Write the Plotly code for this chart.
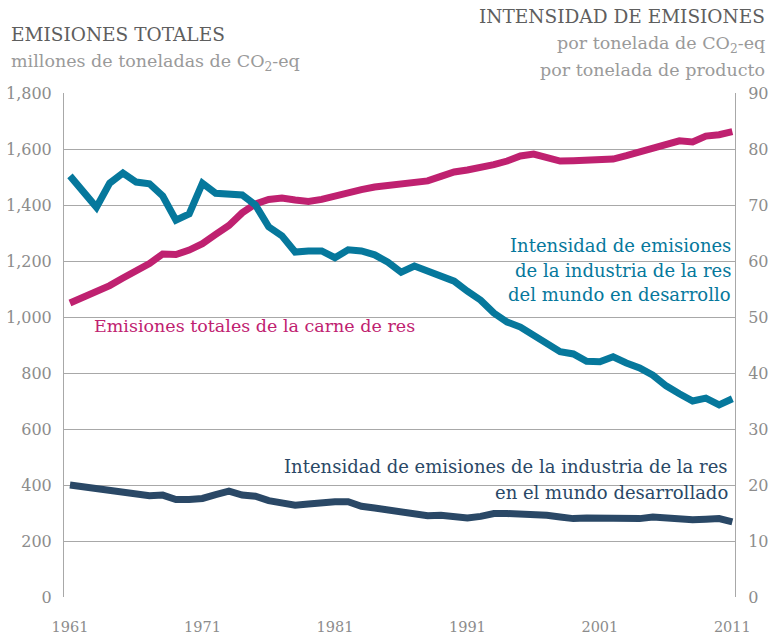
import plotly.graph_objects as go

years = list(range(1961, 2012))

# Total beef emissions, million tonnes CO2-eq (left axis)
beef_total = [1050, 1070, 1089, 1112, 1139, 1164, 1191, 1225, 1223, 1239,
              1262, 1295, 1327, 1372, 1404, 1420, 1425, 1418, 1413, 1420,
              1433, 1446, 1455, 1464, 1471, 1477, 1480, 1486, 1502, 1518,
              1525, 1532, 1544, 1557, 1575, 1582, 1570, 1557, 1558, 1560,
              1562, 1564, 1576, 1589, 1604, 1616, 1629, 1625, 1646, 1651,
              1662]

# Emission intensity, developing world (right axis)
intensity_developing = [75.2, 72.2, 69.6, 73.9, 75.7, 74.1, 73.8, 71.6, 67.3, 68.4,
                        73.9, 72.1, 71.9, 71.8, 70.0, 66.1, 64.5, 61.6, 61.8, 61.8,
                        60.6, 62.0, 61.8, 61.1, 59.8, 58.0, 59.1, 58.2, 57.6, 56.4,
                        54.6, 53.0, 50.7, 49.1, 48.2, 46.8, 45.2, 43.8, 43.4, 42.1,
                        42.0, 42.9, 41.8, 40.9, 39.6, 37.7, 36.3, 35.0, 35.5, 34.3,
                        35.4]

# Emission intensity, developed world (right axis)
intensity_developed = [20.0, 19.7, 19.4, 19.0, 18.9, 18.6, 18.1, 18.2, 17.4, 17.4,
                       17.6, 18.3, 18.9, 18.2, 18.0, 17.2, 16.7, 16.4, 16.6, 16.9,
                       17.0, 17.0, 16.2, 15.9, 15.5, 15.0, 14.7, 14.5, 14.6, 14.3,
                       14.1, 14.4, 14.9, 14.9, 14.9, 14.9, 14.6, 14.3, 14.0, 14.1,
                       14.1, 13.9, 13.8, 14.0, 14.3, 14.1, 13.9, 13.8, 13.9, 14.0,
                       13.4]

left_ticks = [0, 200, 400, 600, 800, 1000, 1200, 1400, 1600, 1800]
left_tick_text = ["0", "200", "400", "600", "800", "1,000", "1,200", "1,400", "1,600", "1,800"]
right_ticks = [0, 10, 20, 30, 40, 50, 60, 70, 80, 90]
x_ticks = [1961, 1971, 1981, 1991, 2001, 2011]

MAGENTA = "#bf2170"
TEAL = "#06789c"
NAVY = "#2a4866"
GRID = "#a8a8a8"
TICK = "#8c8c8c"
FONT = "DejaVu Serif"

fig = go.Figure()
fig.add_trace(go.Scatter(x=years, y=beef_total, mode="lines",
                         line=dict(color=MAGENTA, width=7), yaxis="y", hoverinfo="skip"))
fig.add_trace(go.Scatter(x=years, y=intensity_developed, mode="lines",
                         line=dict(color=NAVY, width=7), yaxis="y2", hoverinfo="skip"))
fig.add_trace(go.Scatter(x=years, y=intensity_developing, mode="lines",
                         line=dict(color=TEAL, width=7), yaxis="y2", hoverinfo="skip"))

L, R, T, B = 64, 36, 93, 40
W, H = 771, 637
pw, ph = W - L - R, H - T - B

def px(x):
    return (x - L) / pw

def py(y):
    return (H - B - y) / ph

annotations = [
    dict(text="EMISIONES TOTALES", x=px(9), y=py(35), xanchor="left", yanchor="middle",
         font=dict(size=18.5, color="#5e5e5e", family=FONT)),
    dict(text="millones de toneladas de CO<sub>2</sub>-eq", x=px(9), y=py(62), xanchor="left",
         yanchor="middle", font=dict(size=17.5, color="#9a9a9a", family=FONT)),
    dict(text="INTENSIDAD DE EMISIONES", x=px(767), y=py(16), xanchor="right", yanchor="middle",
         font=dict(size=18.5, color="#5e5e5e", family=FONT)),
    dict(text="por tonelada de CO<sub>2</sub>-eq", x=px(767), y=py(45), xanchor="right",
         yanchor="middle", font=dict(size=17.5, color="#9a9a9a", family=FONT)),
    dict(text="por tonelada de producto", x=px(767), y=py(70), xanchor="right", yanchor="middle",
         font=dict(size=17.5, color="#9a9a9a", family=FONT)),
    dict(text="Emisiones totales de la carne de res", x=px(92), y=py(326), xanchor="left",
         yanchor="middle", font=dict(size=17.5, color=MAGENTA, family=FONT)),
    dict(text="Intensidad de emisiones", x=px(733), y=py(245), xanchor="right",
         yanchor="middle", font=dict(size=18, color=TEAL, family=FONT)),
    dict(text="de la industria de la res", x=px(733), y=py(270), xanchor="right",
         yanchor="middle", font=dict(size=18, color=TEAL, family=FONT)),
    dict(text="del mundo en desarrollo", x=px(733), y=py(294), xanchor="right",
         yanchor="middle", font=dict(size=18, color=TEAL, family=FONT)),
    dict(text="Intensidad de emisiones de la industria de la res", x=px(730), y=py(466),
         xanchor="right", yanchor="middle", font=dict(size=18, color=NAVY, family=FONT)),
    dict(text="en el mundo desarrollado", x=px(730), y=py(492), xanchor="right",
         yanchor="middle", font=dict(size=18, color=NAVY, family=FONT)),
]
for a in annotations:
    a.update(xref="paper", yref="paper", showarrow=False)

fig.update_layout(
    width=W, height=H,
    margin=dict(l=L, r=R, t=T, b=B, pad=0, autoexpand=False),
    paper_bgcolor="white", plot_bgcolor="white",
    showlegend=False,
    font=dict(family=FONT, color=TICK, size=15),
    xaxis=dict(range=[1960.55, 2011.2], tickvals=x_ticks, showgrid=False, zeroline=False,
               showline=False, ticks="", ticklabelstandoff=19, automargin=False,
               tickfont=dict(size=14.5, color=TICK, family=FONT)),
    yaxis=dict(range=[0, 1800], tickvals=left_ticks, ticktext=left_tick_text,
               showgrid=True, gridcolor=GRID, gridwidth=1, zeroline=False, automargin=False,
               showline=True, linecolor=GRID, linewidth=1, ticks="", ticklabelstandoff=8,
               tickfont=dict(size=16, color=TICK, family=FONT)),
    yaxis2=dict(range=[0, 90], tickvals=right_ticks, overlaying="y", side="right",
                showgrid=False, zeroline=False, showline=True, linecolor=GRID, linewidth=1,
                ticks="", ticklabelstandoff=9, automargin=False,
                tickfont=dict(size=16, color=TICK, family=FONT)),
    annotations=annotations,
)

fig.write_html("out.html", config={"displayModeBar": False, "staticPlot": True},
               post_script="document.body.style.margin='0';")
